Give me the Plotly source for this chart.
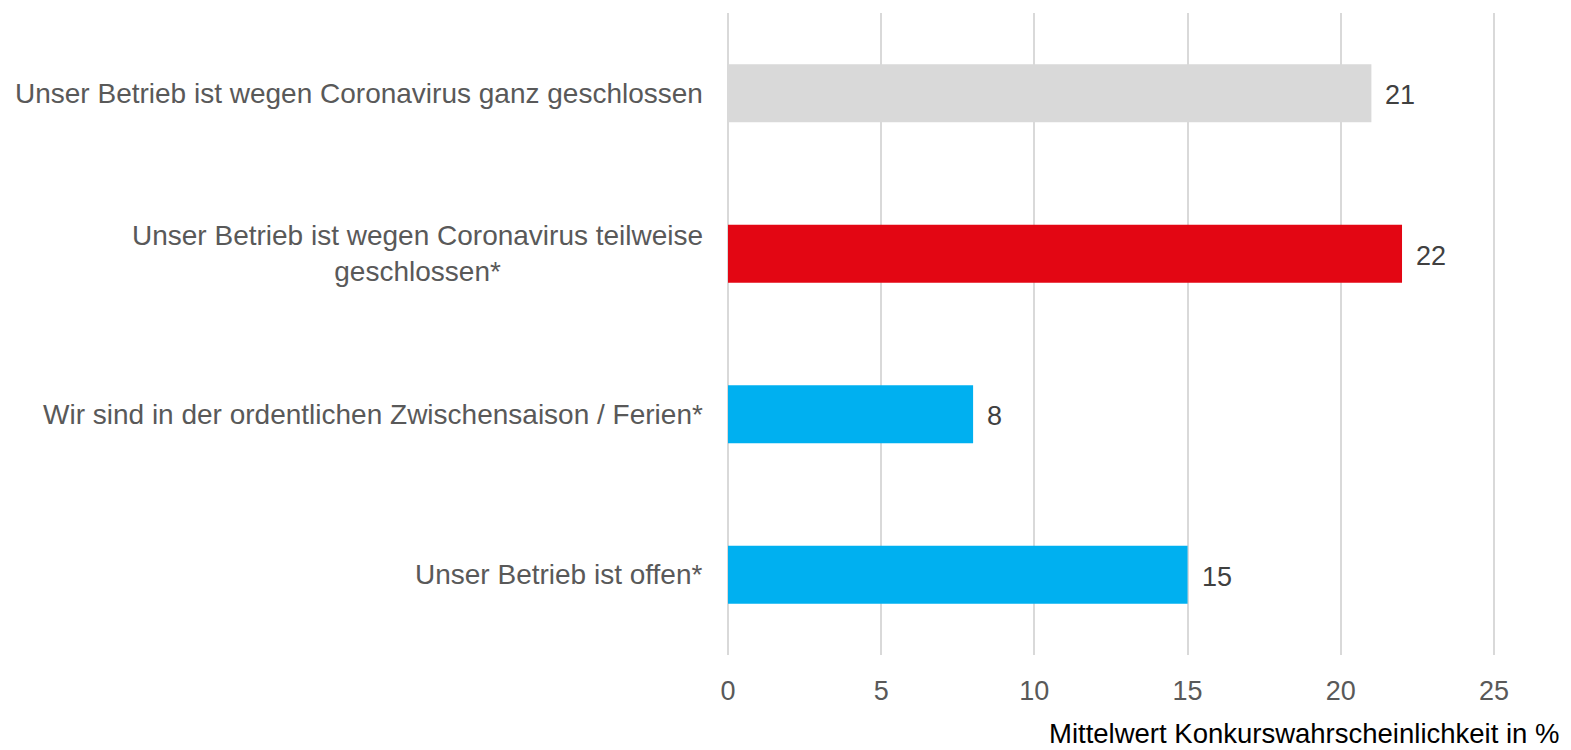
import plotly.graph_objects as go

categories = [
    'Unser Betrieb ist wegen Coronavirus ganz geschlossen',
    'Unser Betrieb ist wegen Coronavirus teilweise<br>geschlossen*',
    'Wir sind in der ordentlichen Zwischensaison / Ferien*',
    'Unser Betrieb ist offen*',
]
values = [21, 22, 8, 15]
colors = ['#D9D9D9', '#E30613', '#00B0F0', '#00B0F0']
x_ticks = [0, 5, 10, 15, 20, 25]

FONT = 'Liberation Sans, Arial, sans-serif'
ids = list(range(len(categories)))

fig = go.Figure(go.Bar(
    x=values, y=ids,
    orientation='h',
    marker=dict(color=colors, line=dict(width=0)),
    width=0.36,
))

# category labels (centred multi-line, right of them the plot)
for i, cat in enumerate(categories):
    fig.add_annotation(
        x=0, xref='paper', y=i, yref='y',
        text=cat, showarrow=False,
        xanchor='right', align='center', xshift=-23,
        font=dict(family=FONT, size=28, color='#595959'),
    )

# value labels
for i, v in enumerate(values):
    fig.add_annotation(
        x=v, xref='x', y=i, yref='y',
        text=str(v), showarrow=False,
        xanchor='left', xshift=12, yshift=-2,
        font=dict(family=FONT, size=27, color='#404040'),
    )

fig.add_annotation(
    x=1, xref='paper', y=0, yref='paper',
    text='Mittelwert Konkurswahrscheinlichkeit in %',
    showarrow=False, xanchor='right', yanchor='middle',
    xshift=64, yshift=-78,
    font=dict(family=FONT, size=27.5, color='#000000'),
)

fig.update_layout(
    width=1563, height=742,
    margin=dict(l=720, r=74, t=5, b=95),
    plot_bgcolor='white', paper_bgcolor='white',
    showlegend=False,
    font=dict(family=FONT),
    xaxis=dict(
        range=[0, 25.1], tickvals=x_ticks,
        showgrid=True, gridcolor='#D9D9D9', gridwidth=1.5,
        zeroline=True, zerolinecolor='#D9D9D9', zerolinewidth=1.5,
        showline=False,
        ticks='outside', ticklen=0, ticklabelstandoff=12,
        tickfont=dict(family=FONT, size=27, color='#595959'),
    ),
    yaxis=dict(
        range=[3.5, -0.5], showticklabels=False,
        showgrid=False, zeroline=False, showline=False,
    ),
)

fig.write_html('out.html')
